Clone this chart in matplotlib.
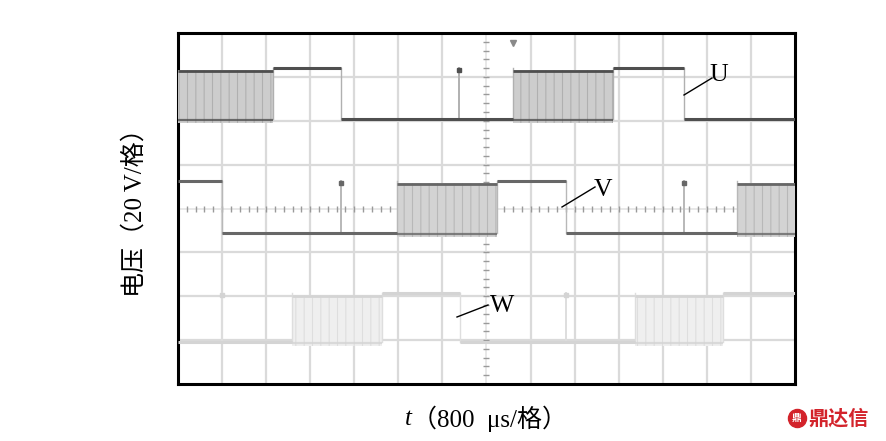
import matplotlib.pyplot as plt
import numpy as np

# time axis in divisions (14 div across, 8 div high)
n_xdiv = 14
n_ydiv = 8

# U phase: edges (div) and state between them, P = PWM chopping
U_t = [0, 2.16, 3.70, 7.60, 9.87, 11.48, 14]
U_s = ['P', 'H', 'L', 'P', 'H', 'L']
U_spikes = [6.38]
U_hi, U_lo = 7.20, 6.04

V_t = [0, 1.00, 4.97, 7.23, 8.80, 12.68, 14]
V_s = ['H', 'L', 'P', 'H', 'L', 'P']
V_spikes = [3.70, 11.48]
V_hi, V_lo = 4.62, 3.44

W_t = [0, 2.59, 4.63, 6.40, 10.37, 12.37, 14]
W_s = ['L', 'P', 'H', 'L', 'P', 'H']
W_spikes = [1.00, 8.80]
W_hi, W_lo = 2.07, 0.96

plt.rcParams['hatch.linewidth'] = 0.8

fig = plt.figure(figsize=(8.87, 4.41), dpi=100)
ax = fig.add_axes([178/887, 57/441, 617/887, 351/441])
ax.set_xlim(0, n_xdiv)
ax.set_ylim(0, n_ydiv)

# graticule
for i in range(1, n_xdiv):
    if i != 7:
        ax.axvline(i, color='#dadada', lw=1.6, zorder=1)
for j in range(1, n_ydiv):
    if j != 4:
        ax.axhline(j, color='#dadada', lw=1.6, zorder=1)
ax.axhline(4, color='#e4e4e4', lw=1.2, zorder=1)
ax.axvline(7, color='#e4e4e4', lw=1.2, zorder=1)
ticks_x = np.arange(0.2, n_xdiv, 0.2)
ticks_y = np.arange(0.2, n_ydiv, 0.2)
ax.plot(ticks_x, np.full_like(ticks_x, 4), ls='none', marker='|', ms=4, mew=1.0, color='#9a9a9a', zorder=2)
ax.plot(np.full_like(ticks_y, 7), ticks_y, ls='none', marker='_', ms=4, mew=1.0, color='#9a9a9a', zorder=2)


def draw_trace(t, s, spikes, hi, lo, line_c, fill_c, edge_c):
    for k, st in enumerate(s):
        a, b = t[k], t[k + 1]
        if st == 'H':
            ax.plot([a, b], [hi, hi], color=line_c, lw=2.2, zorder=4, solid_capstyle='butt')
        elif st == 'L':
            ax.plot([a, b], [lo, lo], color=line_c, lw=2.2, zorder=4, solid_capstyle='butt')
        else:
            ax.fill_between([a, b], lo - 0.1, hi - 0.05, facecolor=fill_c, edgecolor=edge_c,
                            hatch='||', lw=0, zorder=3)
            ax.plot([a, b], [hi - 0.07, hi - 0.07], color=line_c, lw=2.0, zorder=4, solid_capstyle='butt')
            ax.plot([a, b], [lo - 0.02, lo - 0.02], color=line_c, lw=1.6, zorder=4, alpha=0.8, solid_capstyle='butt')
    for x in t[1:-1]:
        ax.plot([x, x], [lo, hi], color=edge_c, lw=1.0, zorder=3)
    for x in spikes:
        ax.plot([x, x], [lo, hi], color=edge_c, lw=1.4, zorder=3)
        ax.plot([x], [hi - 0.05], marker='s', ms=2.5, color=line_c, zorder=4)


draw_trace(U_t, U_s, U_spikes, U_hi, U_lo, '#4f4f4f', '#cdcdcd', '#b0b0b0')
draw_trace(V_t, V_s, V_spikes, V_hi, V_lo, '#676767', '#d3d3d3', '#b8b8b8')
draw_trace(W_t, W_s, W_spikes, W_hi, W_lo, '#d4d4d4', '#efefef', '#dedede')

# trigger marker
ax.plot([7.6], [7.77], marker='v', ms=5, color='#8a8a8a', zorder=4)

# channel labels with leader lines
serif = ['Liberation Serif', 'Noto Sans CJK SC']
labels = [('U', (684, 95), (712, 78), (719, 75)),
          ('V', (562, 207), (595, 187), (603, 190)),
          ('W', (457, 317), (488, 305), (502, 306))]
for name, p0, p1, pt in labels:
    fig.add_artist(plt.Line2D([p0[0]/887, p1[0]/887], [1 - p0[1]/441, 1 - p1[1]/441],
                              color='black', lw=1.0))
    fig.text(pt[0]/887, 1 - pt[1]/441, name, fontsize=18.5, family=serif, ha='center', va='center')

for sp in ax.spines.values():
    sp.set_linewidth(2.2)
    sp.set_color('black')
ax.set_xticks([])
ax.set_yticks([])

fig.text(135/887, 1 - 207/441, '电压（20 V/格）', rotation=90, fontsize=18, family=serif,
         ha='center', va='center')
fig.text(412/887, 1 - 419/441, 't', fontsize=18, family='Liberation Serif', style='italic',
         ha='right', va='center')
fig.text(412/887, 1 - 419/441, '（800  μs/格）', fontsize=18, family=serif, ha='left', va='center')

# watermark logo
fig.add_artist(plt.Line2D([797/887], [1 - 418/441], marker='o', ms=13, color='#d3232b'))
fig.text(797/887, 1 - 418/441, '鼎', fontsize=7, color='white', family='Noto Sans CJK SC',
         ha='center', va='center', fontweight='bold')
fig.text(808/887, 1 - 418/441, '鼎达信', fontsize=14.5, color='#d3232b', family='Noto Sans CJK SC',
         fontweight='bold', ha='left', va='center')

fig.savefig('out.png', dpi=100)
